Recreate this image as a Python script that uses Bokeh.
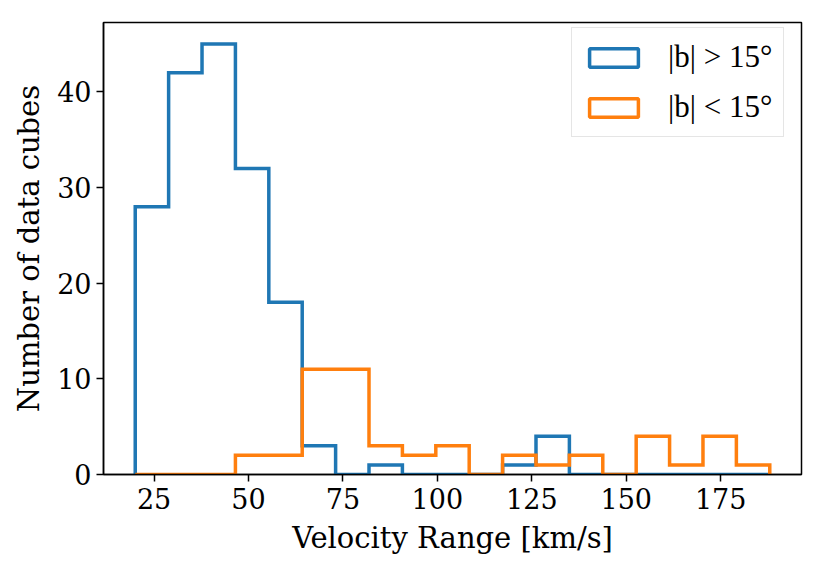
from bokeh.plotting import figure
from bokeh.models import Legend, LegendItem, FixedTicker, Range1d
from bokeh.embed import file_html
from bokeh.resources import INLINE

# Histogram bins (19 equal-width bins from 20 to 188 km/s)
bin_start = 20.0
bin_stop = 188.0
n_bins = 19

# Counts per bin
high_lat_counts = [28, 42, 45, 32, 18, 3, 0, 1, 0, 0, 0, 1, 4, 0, 0, 0, 0, 0, 0]
low_lat_counts = [0, 0, 0, 2, 2, 11, 11, 3, 2, 3, 0, 2, 1, 2, 0, 4, 1, 4, 1]

series_labels = ["|b| > 15°", "|b| < 15°"]
series_colors = ["#1f77b4", "#ff7f0e"]

x_ticks = [25, 50, 75, 100, 125, 150, 175]
y_ticks = [0, 10, 20, 30, 40]

width = (bin_stop - bin_start) / n_bins
edges = [bin_start + i * width for i in range(n_bins + 1)]


def step_outline(counts):
    xs, ys = [edges[0]], [0]
    for i, c in enumerate(counts):
        xs += [edges[i], edges[i + 1]]
        ys += [c, c]
    xs.append(edges[-1])
    ys.append(0)
    return xs, ys


span = bin_stop - bin_start
ymax = max(high_lat_counts) * 1.05

p = figure(width=824, height=571, output_backend="svg", toolbar_location=None,
           x_range=Range1d(bin_start - 0.05 * span, bin_stop + 0.05 * span),
           y_range=Range1d(0, ymax),
           min_border_left=103, min_border_right=23,
           min_border_top=22, min_border_bottom=97)

serif = "DejaVu Serif"
p.xgrid.visible = False
p.ygrid.visible = False
p.outline_line_color = "black"
p.outline_line_width = 1.5
p.background_fill_color = "white"
p.border_fill_color = "white"

for ax in (p.xaxis[0], p.yaxis[0]):
    ax.axis_line_width = 1.5
    ax.major_tick_line_width = 1.5
    ax.major_tick_out = 7
    ax.major_tick_in = 0
    ax.minor_tick_line_color = None
    ax.major_label_text_font = serif
    ax.major_label_text_font_size = "27px"
    ax.major_label_text_color = "black"
    ax.axis_label_text_font = serif
    ax.axis_label_text_font_size = "29px"
    ax.axis_label_text_font_style = "normal"
    ax.axis_label_text_color = "black"

p.xaxis.ticker = FixedTicker(ticks=x_ticks)
p.yaxis.ticker = FixedTicker(ticks=y_ticks)
p.xaxis.axis_label = "Velocity Range [km/s]"
p.yaxis.axis_label = "Number of data cubes"
p.xaxis.major_label_standoff = 6
p.yaxis.major_label_standoff = 5
p.xaxis.axis_label_standoff = 9
p.yaxis.axis_label_standoff = 8

legend_items = []
for counts, label, color in zip([high_lat_counts, low_lat_counts], series_labels, series_colors):
    xs, ys = step_outline(counts)
    p.line(xs, ys, line_color=color, line_width=3.5, line_join="miter")
    # zero-size outlined box: only its legend swatch shows
    swatch = p.quad(left=[0], right=[0], top=[0], bottom=[0], fill_color="white",
                    line_color=color, line_width=3.5)
    legend_items.append(LegendItem(label=label, renderers=[swatch]))

legend = Legend(items=legend_items, location=(468, 337),
                label_text_font="Liberation Serif", label_text_font_size="31px",
                label_text_color="black",
                glyph_width=61, glyph_height=23, label_height=23,
                label_standoff=24, spacing=14, padding=11, margin=0,
                border_line_color="#cccccc", border_line_width=1.5,
                background_fill_color="white", background_fill_alpha=0.8)
p.add_layout(legend)

open("out.html", "w").write(file_html(p, INLINE))
